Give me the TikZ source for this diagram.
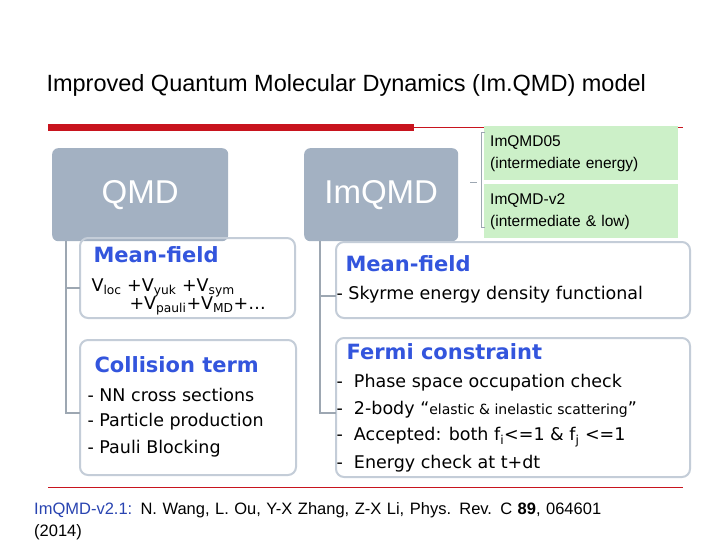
\documentclass[tikz,border=0pt]{standalone}
\usepackage{fontspec}
\setmainfont{Liberation Sans}
\newfontfamily\dv{DejaVu Sans}
\begin{document}
\begin{tikzpicture}[x=1pt,y=-1pt,
  gbox/.style={draw=none,fill=gray1,rounded corners=6pt,text=white},
  obox/.style={draw=gray2,line width=2pt,rounded corners=8pt},
  tree/.style={draw=gray3,line width=2.5pt},
  hd/.style={text=hblue,font=\dv\bfseries\fontsize{21}{24}\selectfont,anchor=west},
  bd/.style={font=\dv\fontsize{17.5}{20}\selectfont,anchor=west},
  grn/.style={fill=lgreen,draw=none,minimum width=194pt,text width=182pt,minimum height=54pt,anchor=north west,font=\fontsize{15.5}{22}\selectfont,align=left,inner sep=6pt}]
\definecolor{gray1}{HTML}{A3B1C2}
\definecolor{gray2}{HTML}{C4CDD8}
\definecolor{gray3}{HTML}{9DA7B2}
\definecolor{hblue}{HTML}{3355DD}
\definecolor{lgreen}{HTML}{CCF0C8}
\definecolor{dred}{HTML}{C8141E}
\useasboundingbox (0,0) rectangle (720,540);
\fill[white] (0,0) rectangle (720,540);
\node[anchor=west,font=\fontsize{23.5}{26}\selectfont] (title) at (43,85) {Improved Quantum Molecular Dynamics (Im.QMD) model};
\coordinate (r1) at (48,127.5); \coordinate (r2) at (414,127.5); \coordinate (r3) at (683,127.5);
\draw[dred,line width=7pt] (r1) -- (r2);
\draw[dred,line width=0.8pt] (r2) -- (r3);
\coordinate (b1) at (48,487); \coordinate (b2) at (683,487);
\draw[dred,line width=0.8pt] (b1) -- (b2);
% gray boxes
\node[gbox,minimum width=176pt,minimum height=93pt,anchor=north west,font=\fontsize{33}{36}\selectfont] (qmd) at (52,148) {QMD};
\node[gbox,minimum width=154pt,minimum height=93pt,anchor=north west,font=\fontsize{33}{36}\selectfont] (imqmd) at (304,148) {ImQMD};
% green
\node[grn] (g1) at (484,126) {ImQMD05\\(intermediate energy)};
\node[grn] (g2) at (484,184) {ImQMD-v2\\(intermediate \& low)};
\coordinate (k1) at (481,133); \coordinate (k2) at (481,228); \coordinate (k0) at (470,183); \coordinate (km) at (477,183);
\draw[gray3,line width=1pt] ([xshift=4pt]k1) -- (k1) -- (k2) -- ([xshift=4pt]k2);
\draw[gray3,line width=1pt] (k0) -- (km);
% left boxes
\draw[obox] (80,238) rectangle (295,318);
\draw[obox] (80,340) rectangle (296,475);
\node[hd] (lmf) at (90,255) {Mean-field};
\node[bd] (lv1) at (88,288) {V\textsubscript{loc} +V\textsubscript{yuk} +V\textsubscript{sym}};
\node[bd] (lv2) at (126,306) {+V\textsubscript{pauli}+V\textsubscript{MD}+…};
\node[hd] (lct) at (91,365) {Collision term};
\node[bd] (l1) at (84,395) {- NN cross sections};
\node[bd] (l2) at (84,422) {- Particle production};
\node[bd] (l3) at (84,449) {- Pauli Blocking};
% right boxes
\draw[obox] (336,242) rectangle (690,318);
\draw[obox] (336,338) rectangle (690,477);
\node[hd] (rmf) at (342,264) {Mean-field};
\node[bd] (r0) at (333,295) {- Skyrme energy density functional};
\node[hd] (rfc) at (343,352) {Fermi constraint};
\node[bd] (ra) at (333,383) {-\ \ Phase space occupation check};
\node[bd] (rb) at (333,410) {-\ \ 2-body “{\fontsize{14}{16}\selectfont elastic \& inelastic scattering}”};
\node[bd] (rc) at (333,437) {-\ \ Accepted: both f\textsubscript{i}<=1 \& f\textsubscript{j} <=1};
\node[bd] (rd) at (333,464) {-\ \ Energy check at t+dt};
% trees
\draw[tree] (66,241) -- (66,413) -- (80,413);
\draw[tree] (66,288) -- (80,288);
\draw[tree] (320,241) -- (320,413) -- (336,413);
\draw[tree] (320,296) -- (336,296);
% citation
\node[anchor=north west,font=\fontsize{16.5}{22}\selectfont,text width=680pt,align=left,inner sep=0pt] (cit) at (34,502) {\textcolor{hblue!80!black}{ImQMD-v2.1:} N. Wang, L. Ou, Y-X Zhang, Z-X Li, Phys. Rev. C \textbf{89}, 064601 \\(2014)};
\end{tikzpicture}
\end{document}
